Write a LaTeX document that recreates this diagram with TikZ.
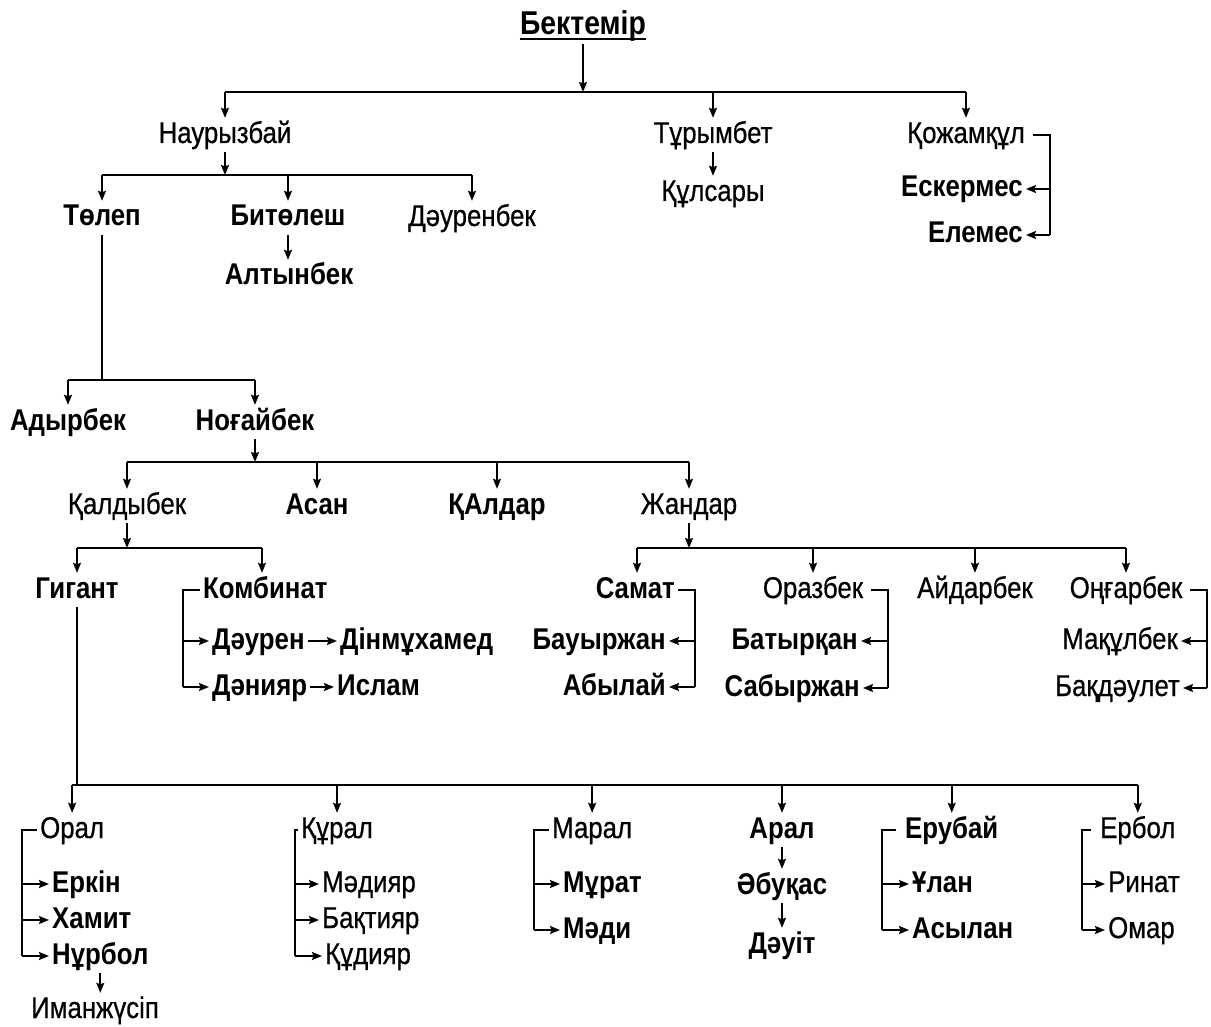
\documentclass[tikz,border=0pt]{standalone}
\usepackage{fontspec}
\setmainfont{Liberation Sans}[FakeStretch=0.86]
\newfontfamily\regfont{Liberation Sans}[FakeStretch=0.86, FakeBold=0.6]
\usetikzlibrary{arrows.meta}
\tikzset{
  nm/.style={font=\regfont\fontsize{30}{34}\selectfont, inner sep=3pt, text height=22pt, text depth=6pt},
  nb/.style={nm, font=\fontsize{30}{34}\selectfont\bfseries},
  ln/.style={line width=1.6pt},
  arr/.style={ln, -{Stealth[length=10pt,width=8pt,inset=1.5pt]}}
}
\begin{document}
\begin{tikzpicture}[x=1pt,y=-1pt]
\fill[white] (0,0) rectangle (1211,1027);
\useasboundingbox (0,0) rectangle (1211,1027);
% bar levels
\coordinate (b1) at (0,92);
\coordinate (b2) at (0,175);
\coordinate (b3) at (0,380);
\coordinate (b4) at (0,462);
\coordinate (b5) at (0,548);
\coordinate (b7) at (0,785);
% bracket x positions
\coordinate (kx) at (1050,0);
\coordinate (cx) at (183,0);
\coordinate (sx) at (695,0);
\coordinate (ox) at (888,0);
\coordinate (gx) at (1207,0);
\coordinate (r1) at (22,0);
\coordinate (r2) at (295,0);
\coordinate (r3) at (534,0);
\coordinate (r5) at (882,0);
\coordinate (r6) at (1082,0);

% nodes
\node[nb, font=\fontsize{33}{36}\selectfont\bfseries] (root) at (583,27) {Бектемір};
\node[nm] (nau) at (225,135) {Наурызбай};
\node[nm] (tur) at (713,135) {Тұрымбет};
\node[nm] (koj) at (966,135) {Қожамқұл};
\node[nm] (kul) at (713,193) {Құлсары};
\node[nb,anchor=east] (esk) at (1026,189) {Ескермес};
\node[nb,anchor=east] (ele) at (1026,235) {Елемес};
\node[nb] (tol) at (102,218) {Төлеп};
\node[nb] (bit) at (288,218) {Битөлеш};
\node[nm] (dau) at (472,218) {Дәуренбек};
\node[nb] (alt) at (289,277) {Алтынбек};
\node[nb] (ady) at (68,422) {Адырбек};
\node[nb] (nog) at (255,422) {Ноғайбек};
\node[nm] (kal) at (127,506) {Қалдыбек};
\node[nb] (asa) at (317,506) {Асан};
\node[nb] (kald) at (497,506) {ҚАлдар};
\node[nm] (zha) at (689,506) {Жандар};
\node[nb] (gig) at (77,590) {Гигант};
\node[nb,anchor=west] (kom) at (200,590) {Комбинат};
\node[nb,anchor=west] (daur) at (209,641) {Дәурен};
\node[nb,anchor=west] (din) at (337,641) {Дінмұхамед};
\node[nb,anchor=west] (dan) at (209,687) {Дәнияр};
\node[nb,anchor=west] (isl) at (334,687) {Ислам};
\node[nb,anchor=east] (sam) at (678,590) {Самат};
\node[nb,anchor=east] (bau) at (669,641) {Бауыржан};
\node[nb,anchor=east] (aby) at (669,687) {Абылай};
\node[nm] (ora) at (813,590) {Оразбек};
\node[nb,anchor=east] (bat) at (861,641) {Батырқан};
\node[nb,anchor=east] (sab) at (863,688) {Сабыржан};
\node[nm] (aid) at (975,590) {Айдарбек};
\node[nm] (ong) at (1126,590) {Оңғарбек};
\node[nm,anchor=east] (mak) at (1181,641) {Мақұлбек};
\node[nm,anchor=east] (bak) at (1183,688) {Бақдәулет};
% bottom row
\node[nm,anchor=west] (oral) at (37,830) {Орал};
\node[nb,anchor=west] (erk) at (49,884) {Еркін};
\node[nb,anchor=west] (ham) at (49,920) {Хамит};
\node[nb,anchor=west] (nur) at (49,956) {Нұрбол};
\node[nm] (iman) at (95,1010) {Иманжүсіп};
\node[nm,anchor=west] (kur) at (298,830) {Құрал};
\node[nm,anchor=west] (mad) at (319,884) {Мәдияр};
\node[nm,anchor=west] (bakt) at (319,920) {Бақтияр};
\node[nm,anchor=west] (kud) at (322,956) {Құдияр};
\node[nm,anchor=west] (mar) at (549,830) {Марал};
\node[nb,anchor=west] (mur) at (560,884) {Мұрат};
\node[nb,anchor=west] (madi) at (560,930) {Мәди};
\node[nb] (aral) at (782,830) {Арал};
\node[nb] (abu) at (782,886) {Әбуқас};
\node[nb] (dauit) at (782,945) {Дәуіт};
\node[nb,anchor=west] (eru) at (902,830) {Ерубай};
\node[nb,anchor=west] (ula) at (909,884) {Ұлан};
\node[nb,anchor=west] (asy) at (909,930) {Асылан};
\node[nm,anchor=west] (erb) at (1097,830) {Ербол};
\node[nm,anchor=west] (rin) at (1105,884) {Ринат};
\node[nm,anchor=west] (oma) at (1105,930) {Омар};

% underline of root
\draw[line width=2pt] ([xshift=3pt,yshift=5pt]root.south west) -- ([xshift=-3pt,yshift=5pt]root.south east);

% level 1
\draw[arr] (root.south) -- (root.south |- b1);
\draw[ln] (nau.north |- b1) -- (koj.north |- b1);
\foreach \c in {nau,tur,koj} \draw[arr] (\c.north |- b1) -- (\c.north);
\draw[arr] (tur.south) -- (kul.north);
\draw[ln] ([xshift=5pt]koj.east) -- (kx |- koj.east) -- (kx |- ele.east);
\draw[arr] (kx |- esk.east) -- (esk.east);
\draw[arr] (kx |- ele.east) -- (ele.east);

% Наурызбай
\draw[arr] (nau.south) -- (nau.south |- b2);
\draw[ln] (tol.north |- b2) -- (dau.north |- b2);
\foreach \c in {tol,bit,dau} \draw[arr] (\c.north |- b2) -- (\c.north);
\draw[arr] (bit.south) -- (bit.south |- alt.north);

% Төлеп
\draw[ln] (tol.south) -- (tol.south |- b3);
\draw[ln] (ady.north |- b3) -- (nog.north |- b3);
\foreach \c in {ady,nog} \draw[arr] (\c.north |- b3) -- (\c.north);

% Ноғайбек
\draw[arr] (nog.south) -- (nog.south |- b4);
\draw[ln] (kal.north |- b4) -- (zha.north |- b4);
\foreach \c in {kal,asa,kald,zha} \draw[arr] (\c.north |- b4) -- (\c.north);

% Қалдыбек
\draw[arr] (kal.south) -- (kal.south |- b5);
\coordinate (komtop) at (262,0);
\draw[ln] (gig.north |- b5) -- (komtop |- b5);
\draw[arr] (gig.north |- b5) -- (gig.north);
\draw[arr] (komtop |- b5) -- (komtop |- kom.north);
\draw[ln] (kom.west) -- (cx |- kom.west) -- (cx |- dan.west);
\draw[arr] (cx |- daur.west) -- (daur.west);
\draw[arr] (cx |- dan.west) -- (dan.west);
\draw[arr] (daur.east) -- (din.west);
\draw[arr] (dan.east) -- (isl.west);

% Жандар
\draw[arr] (zha.south) -- (zha.south |- b5);
\coordinate (samtop) at (637,0);
\draw[ln] (samtop |- b5) -- (ong.north |- b5);
\draw[arr] (samtop |- b5) -- (samtop |- sam.north);
\foreach \c in {ora,aid,ong} \draw[arr] (\c.north |- b5) -- (\c.north);
\draw[ln] (sam.east) -- (sx |- sam.east) -- (sx |- aby.east);
\draw[arr] (sx |- bau.east) -- (bau.east);
\draw[arr] (sx |- aby.east) -- (aby.east);
\draw[ln] ([xshift=5pt]ora.east) -- (ox |- ora.east) -- (ox |- sab.east);
\draw[arr] (ox |- bat.east) -- (bat.east);
\draw[arr] (ox |- sab.east) -- (sab.east);
\draw[ln] ([xshift=5pt]ong.east) -- (gx |- ong.east) -- (gx |- bak.east);
\draw[arr] (gx |- mak.east) -- (mak.east);
\draw[arr] (gx |- bak.east) -- (bak.east);

% Гигант
\draw[ln] (gig.south) -- (gig.south |- b7);
\draw[ln] (oral.north |- b7) -- (erb.north |- b7);
\foreach \c in {oral,kur,mar,aral,eru,erb} \draw[arr] (\c.north |- b7) -- (\c.north);

% Орал
\draw[ln] (oral.west) -- (r1 |- oral.west) -- (r1 |- nur.west);
\foreach \c in {erk,ham,nur} \draw[arr] (r1 |- \c.west) -- (\c.west);
\draw[arr] (nur.south) -- (nur.south |- iman.north);
% Құрал
\draw[ln] (kur.west) -- (r2 |- kur.west) -- (r2 |- kud.west);
\foreach \c in {mad,bakt,kud} \draw[arr] (r2 |- \c.west) -- (\c.west);
% Марал
\draw[ln] (mar.west) -- (r3 |- mar.west) -- (r3 |- madi.west);
\foreach \c in {mur,madi} \draw[arr] (r3 |- \c.west) -- (\c.west);
% Арал
\draw[arr] (aral.south) -- (abu.north);
\draw[arr] (abu.south) -- (dauit.north);
% Ерубай
\draw[ln] ([xshift=-6pt]eru.west) -- (r5 |- eru.west) -- (r5 |- asy.west);
\foreach \c in {ula,asy} \draw[arr] (r5 |- \c.west) -- (\c.west);
% Ербол
\draw[ln] ([xshift=-6pt]erb.west) -- (r6 |- erb.west) -- (r6 |- oma.west);
\foreach \c in {rin,oma} \draw[arr] (r6 |- \c.west) -- (\c.west);
\end{tikzpicture}
\end{document}
